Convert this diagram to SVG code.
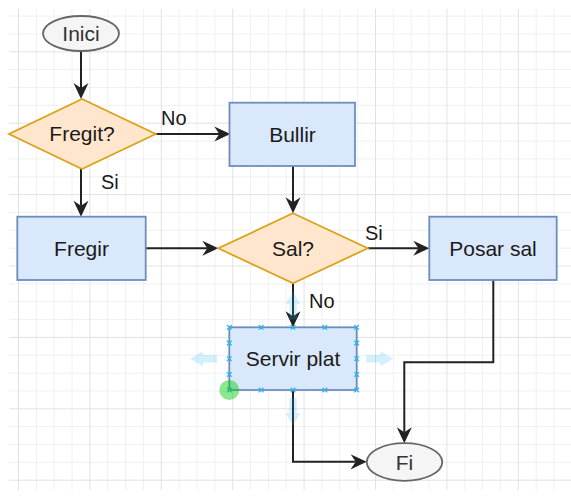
<svg xmlns="http://www.w3.org/2000/svg" width="571" height="497" viewBox="0 0 571 497">
<style>
.box{fill:#dae8fc;stroke:#6c8ebf;stroke-width:1.8}
.dia{fill:#ffe6cc;stroke:#d9a31a;stroke-width:1.8}
.ell{fill:#f5f5f5;stroke:#666666;stroke-width:1.8}
.t{font-family:"Liberation Sans",Arial,Helvetica,sans-serif;font-size:21px;fill:#1a1a1a;text-anchor:middle}
.tg{fill:#333333}
.lbl{font-family:"Liberation Sans",Arial,Helvetica,sans-serif;font-size:20px;fill:#1a1a1a}
.edge{fill:none;stroke:#222222;stroke-width:2}
.hx{stroke:#29b6f2;stroke-width:1.3;fill:none}
.hov{fill:#29b6f2;fill-opacity:0.2}
</style>
<defs>
<pattern id="grid" patternUnits="userSpaceOnUse" x="18" y="51.3" width="71.4" height="71.4">
<path d="M18.35,0V71.4M36.2,0V71.4M54.05,0V71.4M0,18.35H71.4M0,36.2H71.4M0,54.05H71.4" stroke="#f0f0f0" stroke-width="1" fill="none"/>
<path d="M0.5,0V71.4M0,0.5H71.4" stroke="#e2e2e2" stroke-width="1" fill="none"/>
</pattern>
<marker id="arr" markerUnits="userSpaceOnUse" markerWidth="18" markerHeight="17" refX="5" refY="8" orient="auto">
<path d="M0,0.5L16,8L0,15.5L5,8Z" fill="#222222"/>
</marker>
</defs>
<rect width="571" height="497" fill="#ffffff"/>
<rect x="9" y="9" width="562" height="481" fill="url(#grid)"/>

<g id="connectors">
<path class="edge" d="M81,51V88" marker-end="url(#arr)"/>
<path class="edge" d="M156,134H219.3" marker-end="url(#arr)"/>
<path class="edge" d="M81,169V205.7" marker-end="url(#arr)"/>
<path class="edge" d="M293,166V202.3" marker-end="url(#arr)"/>
<path class="edge" d="M146,248.3H207.3" marker-end="url(#arr)"/>
<path class="edge" d="M368,248.3H418.3" marker-end="url(#arr)"/>
<path class="edge" d="M293,283.3V316.3" marker-end="url(#arr)"/>
<path class="edge" d="M293,390V461.8H355.7" marker-end="url(#arr)"/>
<path class="edge" d="M493.3,280V362.3H404.3V432.3" marker-end="url(#arr)"/>
<text class="lbl" x="161" y="125">No</text>
<text class="lbl" x="101" y="189">Si</text>
<text class="lbl" x="365" y="240">Si</text>
<text class="lbl" x="309" y="308">No</text>
</g>

<g id="inici">
<ellipse class="ell" cx="81" cy="33.5" rx="38" ry="17.5"/>
<text class="t tg" x="81" y="40.8">Inici</text>
</g>
<g id="fregit">
<polygon class="dia" points="82,99 155.7,134 82,169 9,134"/>
<text class="t" x="82" y="141.3">Fregit?</text>
</g>
<g id="bullir">
<rect class="box" x="229.5" y="102.7" width="125.5" height="63.3"/>
<text class="t" x="292.5" y="141.6">Bullir</text>
</g>
<g id="fregir">
<rect class="box" x="17.3" y="216.7" width="128.4" height="63.3"/>
<text class="t" x="81.5" y="256.2">Fregir</text>
</g>
<g id="sal">
<polygon class="dia" points="293,213.3 367.7,248.3 293,283.3 218.3,248.3"/>
<text class="t" x="293" y="256">Sal?</text>
</g>
<g id="posar-sal">
<rect class="box" x="429.3" y="216.7" width="127.4" height="63.3"/>
<text class="t" x="493" y="256.2">Posar sal</text>
</g>
<g id="servir-plat">
<rect class="box" x="229.3" y="327.3" width="127.4" height="62.7"/>
<text class="t" x="293" y="366.4">Servir plat</text>
</g>
<g id="fi">
<ellipse class="ell" cx="404.5" cy="462" rx="37.8" ry="18.8"/>
<text class="t tg" x="404.5" y="470">Fi</text>
</g>

<g id="selection">
<polygon class="hov" points="190,358.7 203,351.2 203,355 217,355 217,362.4 203,362.4 203,366.2"/>
<polygon class="hov" points="393.3,358.7 380.3,351.2 380.3,355 366.3,355 366.3,362.4 380.3,362.4 380.3,366.2"/>
<polygon class="hov" points="293,291.8 285.5,304.3 289.3,304.3 289.3,319.5 296.7,319.5 296.7,304.3 300.5,304.3"/>
<polygon class="hov" points="293,425.6 285.5,413.1 289.3,413.1 289.3,397.9 296.7,397.9 296.7,413.1 300.5,413.1"/>
<path class="hx" d="M227,325l4.6,4.6m0,-4.6l-4.6,4.6M258.9,325l4.6,4.6m0,-4.6l-4.6,4.6M290.7,325l4.6,4.6m0,-4.6l-4.6,4.6M322.5,325l4.6,4.6m0,-4.6l-4.6,4.6M354.4,325l4.6,4.6m0,-4.6l-4.6,4.6"/>
<path class="hx" d="M227,387.7l4.6,4.6m0,-4.6l-4.6,4.6M258.9,387.7l4.6,4.6m0,-4.6l-4.6,4.6M290.7,387.7l4.6,4.6m0,-4.6l-4.6,4.6M322.5,387.7l4.6,4.6m0,-4.6l-4.6,4.6M354.4,387.7l4.6,4.6m0,-4.6l-4.6,4.6"/>
<path class="hx" d="M227,340.7l4.6,4.6m0,-4.6l-4.6,4.6M227,356.4l4.6,4.6m0,-4.6l-4.6,4.6M227,372.2l4.6,4.6m0,-4.6l-4.6,4.6"/>
<path class="hx" d="M354.4,340.7l4.6,4.6m0,-4.6l-4.6,4.6M354.4,356.4l4.6,4.6m0,-4.6l-4.6,4.6M354.4,372.2l4.6,4.6m0,-4.6l-4.6,4.6"/>
<circle cx="229.3" cy="390" r="10" fill="#00cc00" fill-opacity="0.45"/>
</g>
</svg>
